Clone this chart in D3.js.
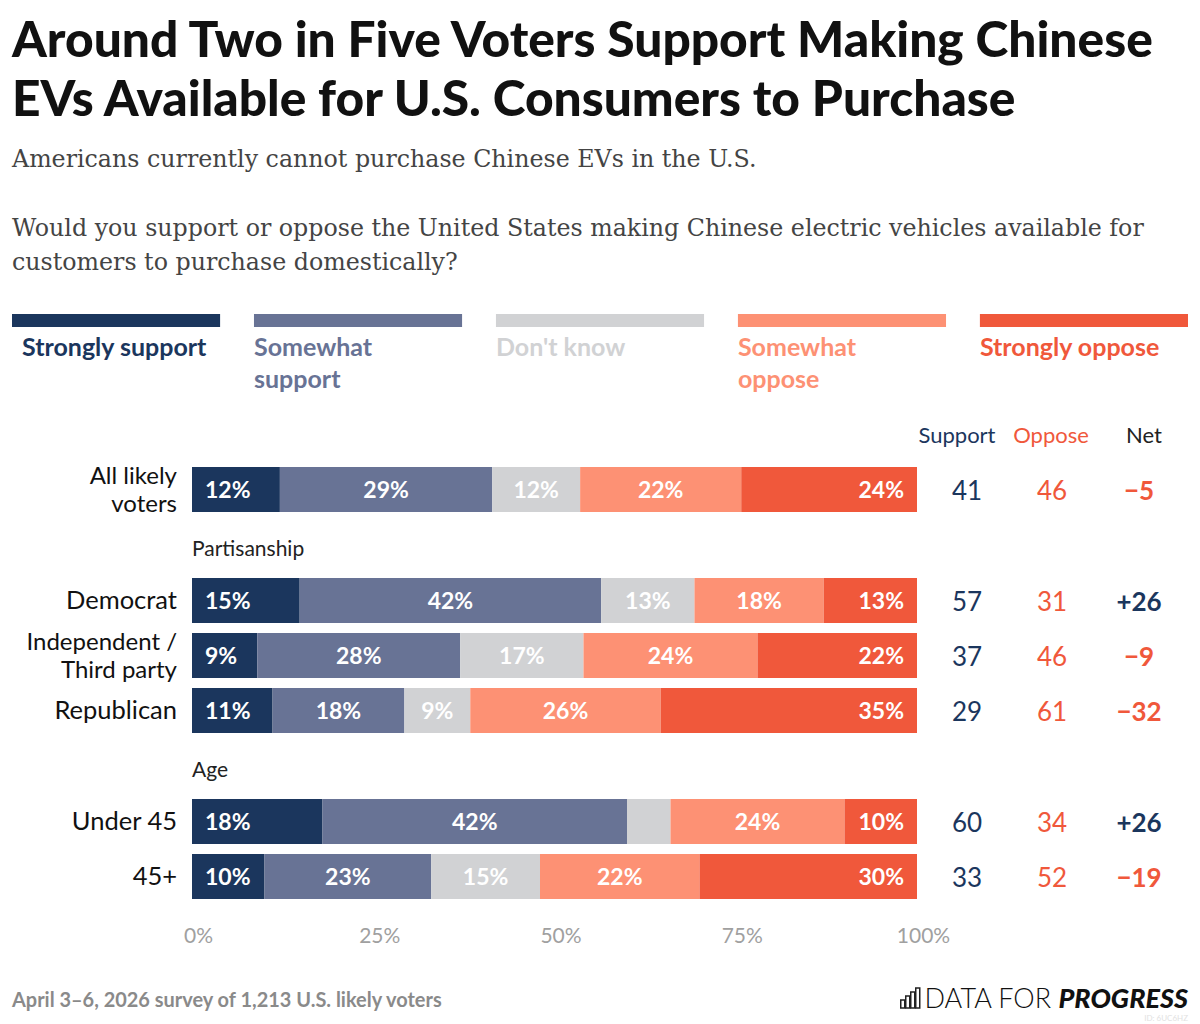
<!DOCTYPE html>
<html>
<head>
	<meta charset="utf-8" />
	<title>Chinese EVs</title>
	<script src="https://cdnjs.cloudflare.com/ajax/libs/d3/7.8.5/d3.min.js"></script>
	<style>
		body { margin: 0; background: #fff; }
		svg text { font-family: Lato, 'Open Sans', sans-serif; }
		.serif { font-family: 'DejaVu Serif', serif !important; }
	</style>
</head>
<body>
<script>
	// chart data
	const categories = ["Strongly support", "Somewhat support", "Don't know", "Somewhat oppose", "Strongly oppose"];
	const legendLines = [["Strongly support"], ["Somewhat", "support"], ["Don't know"], ["Somewhat", "oppose"], ["Strongly oppose"]];
	const groupNames = ["", "Partisanship", "Age"];
	const rowLabels = [["All likely", "voters"], ["Democrat"], ["Independent /", "Third party"], ["Republican"], ["Under 45"], ["45+"]];
	const rowGroup = [0, 1, 1, 1, 2, 2];
	const stronglySupport = [12, 15, 9, 11, 18, 10];
	const somewhatSupport = [29, 42, 28, 18, 42, 23];
	const dontKnow = [12, 13, 17, 9, 6, 15];
	const somewhatOppose = [22, 18, 24, 26, 24, 22];
	const stronglyOppose = [24, 13, 22, 35, 10, 30];
	const supportTotal = [41, 57, 37, 29, 60, 33];
	const opposeTotal = [46, 31, 46, 61, 34, 52];
	const netValues = [-5, 26, -9, -32, 26, -19];
	const tickValues = [0, 25, 50, 75, 100];

	const colors = ["#1b365d", "#687395", "#d1d2d4", "#fd9174", "#f0583b"];
	const navy = colors[0], red = colors[4];

	const W = 1200, H = 1024;
	const svg = d3.select("body").append("svg").attr("width", W).attr("height", H);

	// fit text to a target width
	function fit(sel, target) {
		const len = sel.node().getComputedTextLength();
		const fs = parseFloat(sel.attr("font-size"));
		sel.attr("font-size", fs * target / len);
		return fs * target / len;
	}

	// title
	const t1 = svg.append("text").attr("x", 12).attr("y", 57).attr("font-size", 46)
		.attr("font-weight", 900).attr("fill", "#111")
		.text("Around Two in Five Voters Support Making Chinese");
	const tfs = fit(t1, 1141);
	svg.append("text").attr("x", 12).attr("y", 116).attr("font-size", tfs)
		.attr("font-weight", 900).attr("fill", "#111")
		.text("EVs Available for U.S. Consumers to Purchase");

	// subtitle
	const s1 = svg.append("text").attr("class", "serif").attr("x", 12).attr("y", 167)
		.attr("font-size", 24).attr("fill", "#444")
		.text("Americans currently cannot purchase Chinese EVs in the U.S.");
	const sfs = fit(s1, 745);
	["Would you support or oppose the United States making Chinese electric vehicles available for",
	 "customers to purchase domestically?"].forEach((s, i) => {
		svg.append("text").attr("class", "serif").attr("x", 12).attr("y", 236 + i * 34)
			.attr("font-size", sfs).attr("fill", "#444").text(s);
	});

	// legend
	const legX = d3.scaleBand().domain(categories).range([12, 1188]).paddingInner(0.14);
	const leg = svg.append("g").selectAll("g").data(categories).enter().append("g")
		.attr("transform", d => "translate(" + legX(d) + ",0)");
	leg.append("rect").attr("y", 314).attr("height", 13).attr("width", legX.bandwidth())
		.attr("fill", (d, i) => colors[i]);
	leg.each(function(d, i) {
		const g = d3.select(this);
		legendLines[i].forEach((line, j) => {
			g.append("text").attr("x", i == 0 ? 10 : 0).attr("y", 356 + j * 32)
				.attr("font-size", 25).attr("font-weight", 700)
				.attr("fill", colors[i]).text(line);
		});
	});

	// bars
	const x = d3.scaleLinear().domain([0, 100]).range([192, 917]);
	const barH = 45;
	const rowY = i => 467 + i * 55 + rowGroup[i] * 56;
	const series = [stronglySupport, somewhatSupport, dontKnow, somewhatOppose, stronglyOppose];

	const rows = rowLabels.map((lab, i) => {
		const vals = series.map(s => s[i]);
		const total = d3.sum(vals);
		let acc = 0;
		const segs = vals.map((v, k) => {
			const s = { k: k, v: v, x0: acc / total * 100 };
			acc += v;
			s.x1 = acc / total * 100;
			return s;
		});
		return { i: i, segs: segs };
	});

	const rowG = svg.append("g").selectAll("g").data(rows).enter().append("g")
		.attr("transform", d => "translate(0," + rowY(d.i) + ")");

	rowG.selectAll("rect").data(d => d.segs).enter().append("rect")
		.attr("x", d => x(d.x0)).attr("width", d => x(d.x1) - x(d.x0))
		.attr("height", barH).attr("fill", d => colors[d.k]);

	rowG.selectAll(".val").data(d => d.segs.filter(s => s.v >= 8)).enter().append("text")
		.attr("class", "val")
		.attr("x", d => d.k == 0 ? x(d.x0) + 13 : d.k == 4 ? x(d.x1) - 13 : (x(d.x0) + x(d.x1)) / 2)
		.attr("y", barH / 2).attr("dy", "0.35em")
		.attr("text-anchor", d => d.k == 0 ? "start" : d.k == 4 ? "end" : "middle")
		.attr("font-size", 23).attr("font-weight", 700).attr("fill", "#fff")
		.text(d => d.v + "%");

	// row labels and totals
	rowG.each(function(d) {
		const g = d3.select(this);
		const lines = rowLabels[d.i];
		lines.forEach((line, j) => {
			g.append("text").attr("x", 177)
				.attr("y", barH / 2 + (j - (lines.length - 1) / 2) * 28).attr("dy", "0.35em")
				.attr("text-anchor", "end").attr("font-size", lines.length > 1 ? 24 : 25.5)
				.attr("fill", "#111").text(line);
		});
		g.append("text").attr("x", 967).attr("y", barH / 2 + 1).attr("dy", "0.35em")
			.attr("text-anchor", "middle").attr("font-size", 26).attr("fill", navy)
			.text(supportTotal[d.i]);
		g.append("text").attr("x", 1052).attr("y", barH / 2 + 1).attr("dy", "0.35em")
			.attr("text-anchor", "middle").attr("font-size", 26).attr("fill", red)
			.text(opposeTotal[d.i]);
		const n = netValues[d.i];
		g.append("text").attr("x", 1139).attr("y", barH / 2 + 1).attr("dy", "0.35em")
			.attr("text-anchor", "middle").attr("font-size", 26).attr("font-weight", 700)
			.attr("fill", n > 0 ? navy : red)
			.text(n > 0 ? "+" + n : "\u2212" + Math.abs(n));
	});

	// group headers
	groupNames.forEach((name, gi) => {
		if (!name) return;
		const first = rowGroup.indexOf(gi);
		svg.append("text").attr("x", 192).attr("y", rowY(first) - 22)
			.attr("font-size", 21).attr("fill", "#222").text(name);
	});

	// column headers
	[["Support", 957, navy], ["Oppose", 1051, red], ["Net", 1144, "#222"]].forEach(h => {
		svg.append("text").attr("x", h[1]).attr("y", 443).attr("text-anchor", "middle")
			.attr("font-size", 22).attr("fill", h[2]).text(h[0]);
	});

	// axis
	const axis = svg.append("g").attr("transform", "translate(6,925)")
		.call(d3.axisBottom(x).tickValues(tickValues).tickFormat(d => d + "%").tickSize(0));
	axis.select(".domain").remove();
	axis.selectAll("text").attr("font-size", 21).attr("fill", "#a0a0a0")
		.attr("font-family", "Lato, sans-serif").attr("dy", "0.35em").attr("y", 11);

	// footer
	const foot = svg.append("text").attr("x", 12).attr("y", 1007).attr("font-size", 18).attr("font-weight", 700)
		.attr("fill", "#8a8a8a").text("April 3\u20136, 2026 survey of 1,213 U.S. likely voters");
	fit(foot, 430);

	// logo
	const logo = svg.append("g").attr("transform", "translate(900,988)");
	[[0, 8], [5, 12], [10, 16], [15, 20]].forEach(b => {
		logo.append("rect").attr("x", b[0] + 0.75).attr("y", 20 - b[1]).attr("width", 4)
			.attr("height", b[1]).attr("fill", "none").attr("stroke", "#222").attr("stroke-width", 1.5);
	});
	const lt = svg.append("text").attr("x", 1188).attr("y", 1008).attr("text-anchor", "end")
		.attr("font-size", 27).attr("fill", "#111");
	lt.append("tspan").attr("font-weight", 300).text("DATA FOR ");
	lt.append("tspan").attr("font-weight", 900).attr("font-style", "italic").text("PROGRESS");
	svg.append("text").attr("x", 1188).attr("y", 1021).attr("text-anchor", "end")
		.attr("font-size", 8).attr("fill", "#e2e2e2").text("ID: 6UC6HZ");
</script>
</body>
</html>
